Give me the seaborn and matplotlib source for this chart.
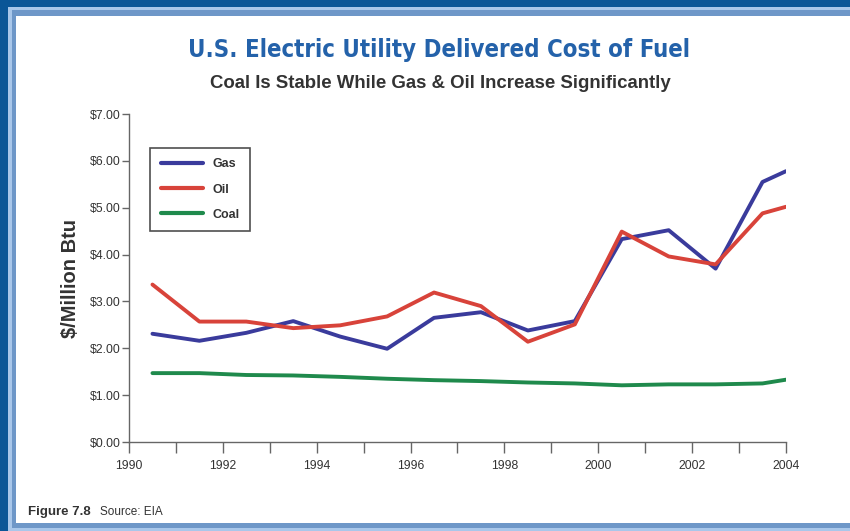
import matplotlib
matplotlib.use("Agg")
import matplotlib.pyplot as plt
from matplotlib.patches import Rectangle
import numpy as np
import pandas as pd
import seaborn as sns

# Delivered cost of fuel to U.S. electric utilities, $/million Btu
years = [1990.5, 1991.5, 1992.5, 1993.5, 1994.5, 1995.5, 1996.5, 1997.5,
         1998.5, 1999.5, 2000.5, 2001.5, 2002.5, 2003.5, 2004.0]
gas = [2.31, 2.16, 2.33, 2.58, 2.25, 1.99, 2.65, 2.77,
       2.38, 2.58, 4.33, 4.52, 3.70, 5.55, 5.78]
oil = [3.36, 2.57, 2.57, 2.43, 2.49, 2.68, 3.19, 2.90,
       2.14, 2.51, 4.49, 3.96, 3.79, 4.88, 5.02]
coal = [1.47, 1.47, 1.43, 1.42, 1.39, 1.35, 1.32, 1.30,
        1.27, 1.25, 1.21, 1.23, 1.23, 1.25, 1.33]

series_names = ["Gas", "Oil", "Coal"]
series_colors = ["#3a3b9c", "#d8433a", "#1f8a4c"]
y_ticks = [0, 1, 2, 3, 4, 5, 6, 7]
x_major = [1990, 1992, 1994, 1996, 1998, 2000, 2002, 2004]

df = pd.DataFrame({
    "Year": years * 3,
    "Cost": gas + oil + coal,
    "Fuel": ["Gas"] * len(years) + ["Oil"] * len(years) + ["Coal"] * len(years),
})

sns.set_theme(style="white")
plt.rcParams["font.family"] = ["Liberation Sans", "DejaVu Sans"]

fig = plt.figure(figsize=(8.5, 5.31), dpi=100)
fig.patch.set_facecolor("#0b5697")

# white framed panel behind the chart
for (x0, y0, dy, col) in [(8, 0, 7, "#a9c7ea"), (12, 3, 13, "#6e97c8"), (16, 8, 24, "white")]:
    fig.patches.append(Rectangle((x0 / 850, y0 / 531), 1.0, 1 - dy / 531,
                                 transform=fig.transFigure, facecolor=col,
                                 edgecolor="none", zorder=-10))

ax = fig.add_axes([129 / 850, 1 - 442 / 531, (786 - 129) / 850, (442 - 114) / 531])
ax.set_facecolor("none")
ax.set_zorder(5)

sns.lineplot(data=df, x="Year", y="Cost", hue="Fuel", hue_order=series_names,
             palette=dict(zip(series_names, series_colors)), linewidth=2.8,
             ax=ax, legend=True)

ax.set_xlim(1990, 2004)
ax.set_ylim(0, 7)
ax.set_yticks(y_ticks)
ax.set_yticklabels([f"\\${v:.2f}" for v in y_ticks])
ax.set_xticks(x_major)
ax.set_xticks(list(range(1991, 2004, 2)), minor=True)
ax.set_xticklabels([str(v) for v in x_major])

for side in ("top", "right"):
    ax.spines[side].set_visible(False)
for side in ("left", "bottom"):
    ax.spines[side].set_color("#666666")
    ax.spines[side].set_linewidth(1.0)

ax.tick_params(axis="both", which="both", direction="out", color="#666666",
               labelcolor="#333333", labelsize=8.8, width=1.0)
ax.tick_params(axis="y", length=5, pad=1)
ax.tick_params(axis="x", which="major", length=8, pad=5)
ax.tick_params(axis="x", which="minor", length=8)
ax.tick_params(axis="both", which="both", bottom=True, left=True)

ax.set_xlabel("")
ax.set_ylabel("\\$/Million Btu", fontsize=14.5, fontweight="bold", color="#333333", labelpad=7)

leg = ax.legend(loc="upper left", bbox_to_anchor=(0.032, 0.897), borderaxespad=0,
                frameon=True, fancybox=False, edgecolor="#222222", handlelength=3.4,
                handletextpad=0.75, labelspacing=1.05, borderpad=0.85,
                prop={"size": 9, "weight": "bold"})
leg.get_frame().set_linewidth(1.2)
for t in leg.get_texts():
    t.set_color("#333333")
for h in leg.get_lines():
    h.set_linewidth(3.0)

fig.text(439 / 850, 1 - 50 / 531, "U.S. Electric Utility Delivered Cost of Fuel",
         ha="center", va="center", fontsize=17.2, fontweight="bold", color="#2462aa",
         family="DejaVu Sans", fontstretch="condensed")
fig.text(440 / 850, 1 - 84 / 531, "Coal Is Stable While Gas & Oil Increase Significantly",
         ha="center", va="center", fontsize=13.4, fontweight="bold", color="#333333")

fig.text(28 / 850, 1 - 512 / 531, "Figure 7.8", ha="left", va="center",
         fontsize=9.5, fontweight="bold", color="#333333")
fig.text(100 / 850, 1 - 512 / 531, "Source: EIA", ha="left", va="center",
         fontsize=8.5, color="#333333")

fig.savefig("out.png", dpi=100, facecolor=fig.get_facecolor())
